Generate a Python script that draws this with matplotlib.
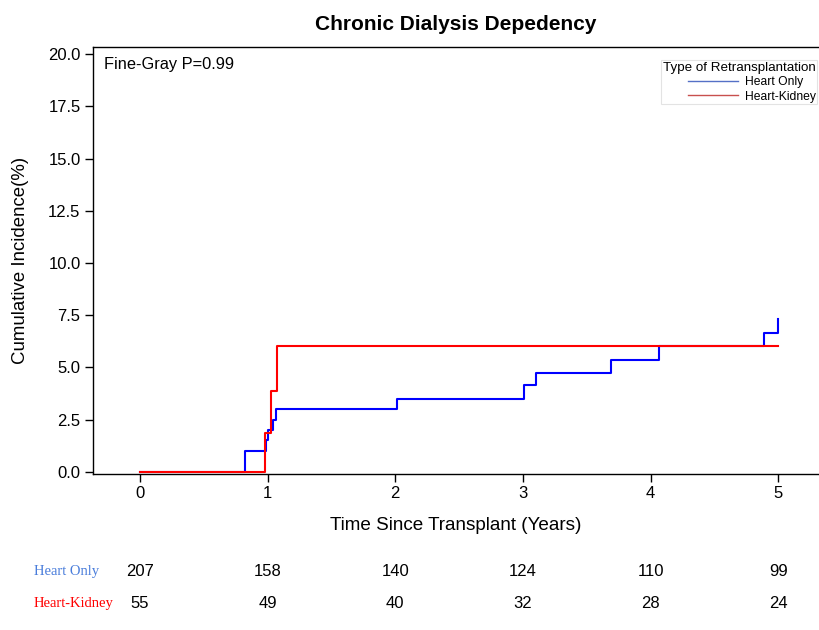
import matplotlib
matplotlib.use("Agg")
import matplotlib.pyplot as plt
from matplotlib.lines import Line2D
import matplotlib.transforms as mtransforms

plt.rcParams['font.family'] = ['Liberation Sans', 'DejaVu Sans']

# Data
heart_only_t = [0, 0.825, 0.99, 1.0, 1.045, 1.066, 2.01, 3.01, 3.10, 3.69, 4.07, 4.89, 4.995, 5.0]
heart_only_y = [0, 1.0, 1.5, 2.0, 2.5, 3.0, 3.5, 4.15, 4.75, 5.37, 6.0, 6.65, 7.3, 7.3]
heart_kidney_t = [0, 0.977, 1.024, 1.076, 5.0]
heart_kidney_y = [0, 1.85, 3.86, 6.0, 6.0]

risk_times = [0, 1, 2, 3, 4, 5]
risk_heart_only = [207, 158, 140, 124, 110, 99]
risk_heart_kidney = [55, 49, 40, 32, 28, 24]

x_ticks = [0, 1, 2, 3, 4, 5]
y_ticks = [0.0, 2.5, 5.0, 7.5, 10.0, 12.5, 15.0, 17.5, 20.0]

fig = plt.figure(figsize=(8.19, 6.3), dpi=100)
ax = fig.add_axes([93/819, 1-474/630, 1-93/819, (474-46.7)/630])

ax.plot(heart_only_t, heart_only_y, drawstyle='steps-post', color='#0000ff', lw=1.5)
ax.plot(heart_kidney_t, heart_kidney_y, drawstyle='steps-post', color='#ff0000', lw=1.5)

ax.set_xlim(-0.368, 5.32)
ax.set_ylim(-0.11, 20.36)
ax.set_xticks(x_ticks)
ax.set_yticks(y_ticks)
ax.set_yticklabels([f"{v:.1f}" for v in y_ticks])
ax.tick_params(direction='out', length=5.5, width=1, labelsize=12, colors='black')
for s in ['left', 'bottom', 'top']:
    ax.spines[s].set_linewidth(1.0)
ax.spines['right'].set_visible(False)

ax.set_xlabel('Time Since Transplant (Years)', fontsize=13.6, labelpad=11)
ax.set_ylabel('Cumulative Incidence(%)', fontsize=13.4, labelpad=14)
ax.set_title('Chronic Dialysis Depedency', fontsize=15, fontweight='bold', pad=12)

ax.text(0.015, 0.975, 'Fine-Gray P=0.99', transform=ax.transAxes, fontsize=11.8,
        va='top', ha='left')

handles = [Line2D([], [], color='#5470c6', lw=1.0), Line2D([], [], color='#c8504d', lw=1.0)]
leg = ax.legend(handles, ['Heart Only', 'Heart-Kidney'], title='Type of Retransplantation',
                loc='upper right', bbox_to_anchor=(1.006, 0.983), fontsize=8.7,
                title_fontsize=9.6, frameon=True, fancybox=False, handlelength=4.2,
                borderpad=0.15, labelspacing=0.2, handletextpad=0.5, alignment='right')
leg.get_frame().set_edgecolor('#dddddd')
leg.get_frame().set_linewidth(0.8)

trans = mtransforms.blended_transform_factory(ax.transData, fig.transFigure)
y1 = 1 - 571/630
y2 = 1 - 603/630
fig.text(34/819, y1, 'Heart Only', color='#4a7ddb', family=['Liberation Serif', 'DejaVu Serif'],
         fontsize=10.5, va='center', ha='left')
fig.text(34/819, y2, 'Heart-Kidney', color='#ff0000', family=['Liberation Serif', 'DejaVu Serif'],
         fontsize=10.5, va='center', ha='left')
for t, a, b in zip(risk_times, risk_heart_only, risk_heart_kidney):
    fig.text(t, y1, str(a), transform=trans, ha='center', va='center', fontsize=12)
    fig.text(t, y2, str(b), transform=trans, ha='center', va='center', fontsize=12)

fig.savefig('out.png', dpi=100)
